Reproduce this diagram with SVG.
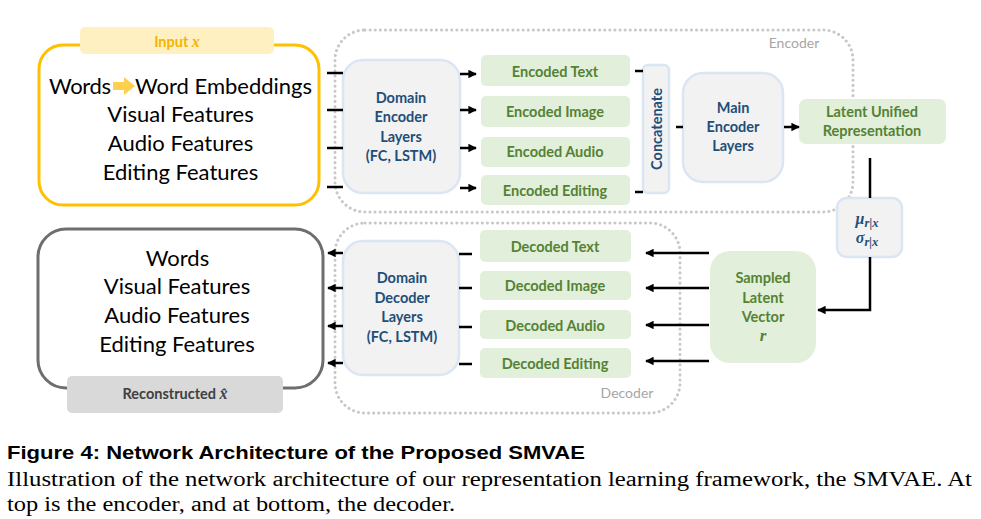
<svg xmlns="http://www.w3.org/2000/svg" width="981" height="519" viewBox="0 0 981 519">
<defs>
<style>
.sans{font-family:Lato,"Open Sans","Liberation Sans",sans-serif}
.big{font-size:22px;fill:#000;text-anchor:middle}
.blue{font-size:14.5px;font-weight:bold;fill:#1F4E79;text-anchor:middle}
.green{font-size:14.5px;font-weight:bold;fill:#548235;text-anchor:middle}
.gbox{fill:#F2F2F2;stroke:#DAE6F4;stroke-width:2.5}
.enc{fill:#E2EFDA}
.region{fill:none;stroke:#C8C8C8;stroke-width:3;stroke-dasharray:0.1 5;stroke-linecap:round}
.ln{stroke:#000;stroke-width:2.5;fill:none}
.math{font-family:"Liberation Serif","DejaVu Serif",serif;font-style:italic}
</style>
<marker id="ah" viewBox="0 0 10 10" refX="9" refY="5" markerWidth="3.4" markerHeight="3.4" orient="auto" markerUnits="strokeWidth">
<path d="M0,0 L10,5 L0,10 Z" fill="#000"/>
</marker>
</defs>
<rect width="981" height="519" fill="#fff"/>

<!-- regions -->
<g id="encoder-region">
<rect class="region" x="335" y="30" width="518" height="182" rx="30"/>
<text class="sans" x="794" y="48" font-size="14" fill="#A6A6A6" text-anchor="middle">Encoder</text>
</g>
<g id="decoder-region">
<rect class="region" x="335" y="223" width="345" height="190" rx="30"/>
<text class="sans" x="627" y="398" font-size="14" fill="#A6A6A6" text-anchor="middle">Decoder</text>
</g>

<!-- input -->
<g id="input">
<rect x="39" y="45" width="280" height="160" rx="24" fill="#fff" stroke="#FFC000" stroke-width="3"/>
<rect x="80" y="27" width="194" height="27" rx="5" fill="#FFF0C2"/>
<text class="sans" x="177" y="47" font-size="14.5" font-weight="bold" fill="#F4B400" text-anchor="middle">Input <tspan class="math" font-weight="bold" font-size="16">x</tspan></text>
<text class="sans" x="111" y="94" font-size="22" text-anchor="end" textLength="62">Words</text>
<polygon points="113,82 124,82 124,77 135,86 124,95 124,90 113,90" fill="#FFD04D"/>
<text class="sans" x="135" y="94" font-size="22" textLength="177">Word Embeddings</text>
<text class="sans big" x="180.5" y="122">Visual Features</text>
<text class="sans big" x="180.5" y="151">Audio Features</text>
<text class="sans big" x="180.5" y="180">Editing Features</text>
</g>

<g id="domain-encoder">
<rect class="gbox" x="343" y="60" width="117" height="133" rx="20"/>
<text class="sans blue" x="401" y="103">Domain</text>
<text class="sans blue" x="401" y="122">Encoder</text>
<text class="sans blue" x="401" y="142">Layers</text>
<text class="sans blue" x="401" y="161">(FC, LSTM)</text>
</g>

<g id="encoded-text"><rect class="enc" x="481" y="55" width="149" height="31" rx="5"/><text class="sans green" x="555" y="77">Encoded Text</text></g>
<g id="encoded-image"><rect class="enc" x="481" y="96" width="149" height="31" rx="5"/><text class="sans green" x="555" y="117">Encoded Image</text></g>
<g id="encoded-audio"><rect class="enc" x="481" y="137" width="149" height="30" rx="5"/><text class="sans green" x="555" y="157">Encoded Audio</text></g>
<g id="encoded-editing"><rect class="enc" x="481" y="175" width="149" height="30" rx="5"/><text class="sans green" x="555" y="196">Encoded Editing</text></g>

<g id="concatenate">
<rect class="gbox" x="643" y="65" width="26" height="128" rx="5"/>
<text class="sans blue" transform="translate(661.5,129) rotate(-90)" x="0" y="0">Concatenate</text>
</g>

<g id="main-encoder">
<rect class="gbox" x="683" y="73" width="100" height="109" rx="20"/>
<text class="sans blue" x="733" y="113">Main</text>
<text class="sans blue" x="733" y="132">Encoder</text>
<text class="sans blue" x="733" y="151">Layers</text>
</g>

<g id="latent">
<rect class="enc" x="799" y="99" width="147" height="45" rx="7"/>
<text class="sans green" x="872" y="117">Latent Unified</text>
<text class="sans green" x="872" y="136">Representation</text>
</g>

<g id="mu-sigma">
<rect class="gbox" x="837" y="198" width="65" height="59" rx="10"/>
<text class="math" x="867" y="224" font-size="16" font-weight="bold" fill="#1F4E79" text-anchor="middle">μ<tspan font-size="12.5" dy="3">r|x</tspan></text>
<text class="math" x="867" y="243" font-size="16" font-weight="bold" fill="#1F4E79" text-anchor="middle">σ<tspan font-size="12.5" dy="3">r|x</tspan></text>
</g>

<g id="sampled">
<rect class="enc" x="710" y="251" width="106" height="112" rx="20"/>
<text class="sans green" x="763" y="283">Sampled</text>
<text class="sans green" x="763" y="303">Latent</text>
<text class="sans green" x="763" y="322">Vector</text>
<text class="math" x="763" y="341" font-size="17" font-weight="bold" fill="#548235" text-anchor="middle">r</text>
</g>

<g id="decoded-text"><rect class="enc" x="480" y="230" width="151" height="32" rx="5"/><text class="sans green" x="555" y="252">Decoded Text</text></g>
<g id="decoded-image"><rect class="enc" x="480" y="271" width="151" height="29" rx="5"/><text class="sans green" x="555" y="291">Decoded Image</text></g>
<g id="decoded-audio"><rect class="enc" x="480" y="310" width="151" height="29" rx="5"/><text class="sans green" x="555" y="331">Decoded Audio</text></g>
<g id="decoded-editing"><rect class="enc" x="480" y="348" width="151" height="30" rx="5"/><text class="sans green" x="555" y="369">Decoded Editing</text></g>

<g id="domain-decoder">
<rect class="gbox" x="343" y="241" width="116" height="134" rx="20"/>
<text class="sans blue" x="402" y="283">Domain</text>
<text class="sans blue" x="402" y="303">Decoder</text>
<text class="sans blue" x="402" y="322">Layers</text>
<text class="sans blue" x="402" y="342">(FC, LSTM)</text>
</g>

<g id="output">
<rect x="38" y="229" width="285" height="159" rx="28" fill="#fff" stroke="#6E6E6E" stroke-width="3"/>
<rect x="67" y="376" width="216" height="37" rx="5" fill="#D9D9D9"/>
<text class="sans" x="175" y="399" font-size="14.5" font-weight="bold" fill="#404040" text-anchor="middle">Reconstructed <tspan class="math" font-size="16">x̂</tspan></text>
<text class="sans big" x="177.5" y="266">Words</text>
<text class="sans big" x="177" y="294">Visual Features</text>
<text class="sans big" x="177" y="323">Audio Features</text>
<text class="sans big" x="177" y="352">Editing Features</text>
</g>

<g id="connectors">
<line class="ln" x1="327" y1="73" x2="343" y2="73"/>
<line class="ln" x1="327" y1="110" x2="343" y2="110"/>
<line class="ln" x1="327" y1="148" x2="343" y2="148"/>
<line class="ln" x1="327" y1="187" x2="343" y2="187"/>
<line class="ln" x1="460" y1="74" x2="476" y2="74" marker-end="url(#ah)"/>
<line class="ln" x1="460" y1="110" x2="476" y2="110" marker-end="url(#ah)"/>
<line class="ln" x1="460" y1="148" x2="476" y2="148" marker-end="url(#ah)"/>
<line class="ln" x1="460" y1="188" x2="476" y2="188" marker-end="url(#ah)"/>
<line class="ln" x1="635" y1="71" x2="643" y2="71"/>
<line class="ln" x1="635" y1="192" x2="643" y2="192"/>
<line class="ln" x1="676" y1="127" x2="683" y2="127"/>
<line class="ln" x1="784" y1="127" x2="799" y2="127" marker-end="url(#ah)"/>
<line class="ln" x1="870" y1="158" x2="870" y2="198" stroke-width="3"/>
<path class="ln" d="M870,257 V310 H818" stroke-width="3" marker-end="url(#ah)"/>
<line class="ln" x1="709" y1="253" x2="646" y2="253" marker-end="url(#ah)"/>
<line class="ln" x1="709" y1="288" x2="646" y2="288" marker-end="url(#ah)"/>
<line class="ln" x1="709" y1="325" x2="646" y2="325" marker-end="url(#ah)"/>
<line class="ln" x1="709" y1="361" x2="646" y2="361" marker-end="url(#ah)"/>
<line class="ln" x1="459" y1="254" x2="472" y2="254"/>
<line class="ln" x1="459" y1="288" x2="472" y2="288"/>
<line class="ln" x1="459" y1="327" x2="472" y2="327"/>
<line class="ln" x1="459" y1="364" x2="472" y2="364"/>
<line class="ln" x1="343" y1="253" x2="328" y2="253" marker-end="url(#ah)"/>
<line class="ln" x1="343" y1="288" x2="328" y2="288" marker-end="url(#ah)"/>
<line class="ln" x1="343" y1="326" x2="328" y2="326" marker-end="url(#ah)"/>
<line class="ln" x1="343" y1="363" x2="328" y2="363" marker-end="url(#ah)"/>
</g>

<g id="caption">
<text x="7" y="459" font-family="'Liberation Sans',Arial,sans-serif" font-size="18" font-weight="bold" fill="#000" textLength="578" lengthAdjust="spacingAndGlyphs">Figure 4: Network Architecture of the Proposed SMVAE</text>
<text x="7" y="486" font-family="'Liberation Serif','DejaVu Serif',serif" font-size="20" fill="#000" textLength="965" lengthAdjust="spacingAndGlyphs">Illustration of the network architecture of our representation learning framework, the SMVAE. At</text>
<text x="7" y="511" font-family="'Liberation Serif','DejaVu Serif',serif" font-size="20" fill="#000" textLength="448" lengthAdjust="spacingAndGlyphs">top is the encoder, and at bottom, the decoder.</text>
</g>
</svg>
